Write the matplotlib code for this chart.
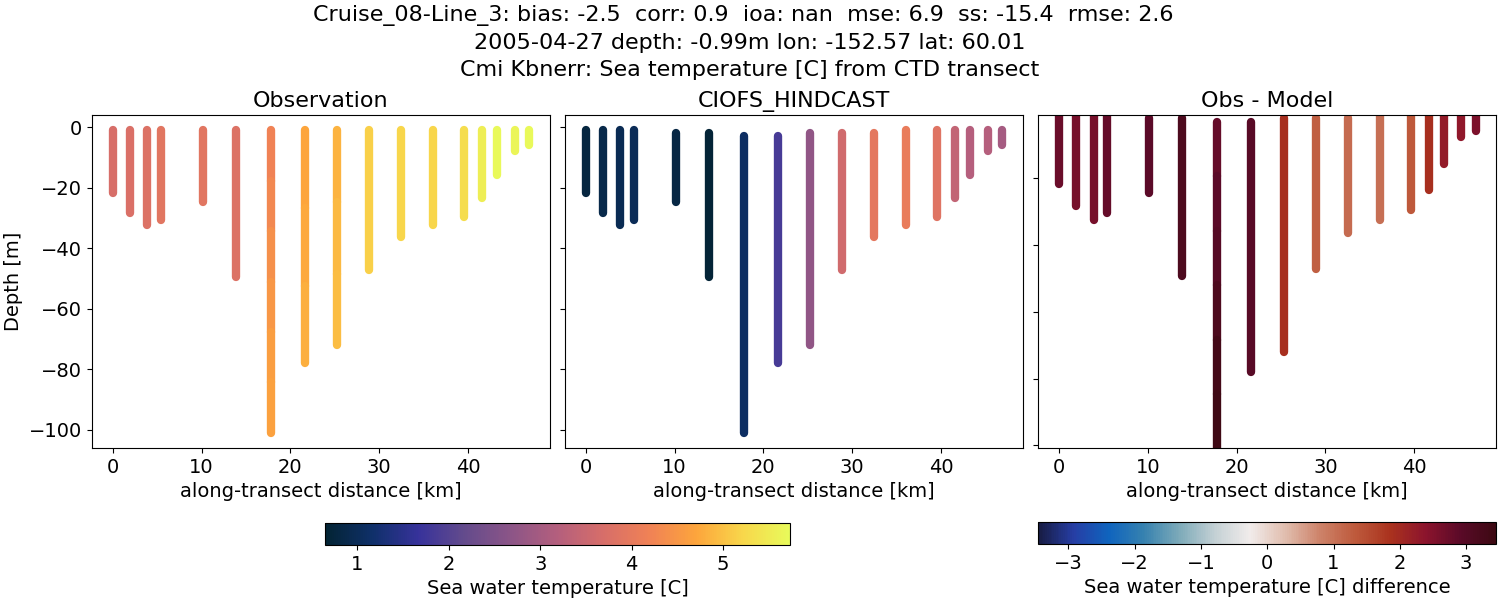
import numpy as np
import matplotlib
matplotlib.use('Agg')
import matplotlib.pyplot as plt
from matplotlib.cm import ScalarMappable
from matplotlib.colors import LinearSegmentedColormap, Normalize

# along-transect distance of each cast [km]
distance = [0.0, 1.9, 3.9, 5.4, 10.15, 13.85, 17.85, 21.6, 25.3, 28.9, 32.5, 36.1, 39.6, 41.6, 43.3, 45.3, 46.9]

# depth of first and last sample of each cast [m]
obs_top = [-1, -1, -1, -1, -1, -1, -1, -1, -1, -1, -1, -1, -1, -1, -1, -1, -1]
model_top = [-1, -1, -1, -1, -2, -2, -3, -3, -2, -2, -2, -1, -1, -1, -1, -1, -1]
bottom = [-21.6, -28.4, -32.4, -30.5, -24.5, -49.3, -100.9, -78, -72, -47.3, -36.4, -32.4, -29.5, -23.5, -15.7, -7.7, -5.7]

obs_temp = [[3.7], [3.75], [3.8], [3.9], [3.9], [3.8], [4.2, 4.3, 4.4, 4.5, 4.6, 4.65], [4.7, 4.75, 4.8], [4.85, 4.9, 4.95],
            [5.15], [5.2], [5.2], [5.3], [5.55], [5.7], [5.65], [5.7]]
model_temp = [[0.78], [0.88], [0.95], [1.0], [0.82], [0.7], [1.1], [1.85], [2.75],
              [3.6], [3.95], [4.05], [3.85], [3.4], [3.2], [3.2], [3.0]]
diff_temp = [[2.75], [2.6], [2.6], [2.8], [2.9], [3.15], [2.8, 2.9, 3.0, 3.15, 3.3, 3.4], [2.95], [1.9],
             [1.25], [1.1], [1.05], [1.35], [1.9], [2.25], [2.3], [2.55]]

title_lines = ['Cruise_08-Line_3: bias: -2.5  corr: 0.9  ioa: nan  mse: 6.9  ss: -15.4  rmse: 2.6  ',
               '2005-04-27 depth: -0.99m lon: -152.57 lat: 60.01',
               'Cmi Kbnerr: Sea temperature [C] from CTD transect']


def rgb_map(name, colors):
    return LinearSegmentedColormap.from_list(name, [(r / 255, g / 255, b / 255) for r, g, b in colors])


# stand-ins for cmocean thermal and balance
thermal = rgb_map('thermal', [(3, 35, 51), (15, 48, 105), (55, 50, 155), (100, 75, 140), (140, 85, 135),
                              (180, 95, 125), (215, 110, 105), (240, 130, 85), (253, 165, 60),
                              (248, 215, 75), (232, 250, 91)])
balance = rgb_map('balance', [(24, 28, 67), (38, 62, 165), (15, 100, 190), (55, 130, 175), (125, 170, 185),
                              (195, 208, 212), (241, 236, 235), (225, 190, 175), (205, 130, 105),
                              (190, 90, 60), (170, 50, 30), (140, 20, 45), (90, 10, 40), (60, 9, 18)])

temp_norm = Normalize(0.647, 5.73)
diff_norm = Normalize(-3.46, 3.46)

plt.rcParams['font.size'] = 14
W, H = 1500, 600


def px_axes(fig, x0, y0, x1, y1):
    return fig.add_axes([x0 / W, 1 - y1 / H, (x1 - x0) / W, (y1 - y0) / H])


def draw_casts(ax, tops, values, cmap, norm):
    for x, top, bot, vals in zip(distance, tops, bottom, values):
        edges = np.linspace(top, bot, len(vals) + 1)
        for i, v in enumerate(vals):
            ax.plot([x, x], [edges[i], edges[i + 1]], color=cmap(norm(v)), lw=6, solid_capstyle='round')


fig = plt.figure(figsize=(15, 6), dpi=100)
fig.suptitle('\n'.join(title_lines), fontsize=16, y=0.991, va='top', linespacing=1.41)

ax1 = px_axes(fig, 92, 115, 550, 448)
ax2 = px_axes(fig, 565, 115, 1023, 448)
ax3 = px_axes(fig, 1038, 115, 1496.5, 448)

draw_casts(ax1, obs_top, obs_temp, thermal, temp_norm)
draw_casts(ax2, model_top, model_temp, thermal, temp_norm)
draw_casts(ax3, model_top, diff_temp, balance, diff_norm)

ax1.set_title('Observation', fontsize=16)
ax2.set_title('CIOFS_HINDCAST', fontsize=16)
ax3.set_title('Obs - Model', fontsize=16)
ax1.set_ylabel('Depth [m]')

for ax in (ax1, ax2, ax3):
    ax.set_xlabel('along-transect distance [km]')
    ax.set_xticks([0, 10, 20, 30, 40])
    ax.set_yticks([0, -20, -40, -60, -80, -100])
ax1.set_ylim(-106, 4.1)
ax2.set_ylim(-106, 4.1)
ax3.set_ylim(-100.75, -1.05)
ax2.tick_params(labelleft=False)
ax3.tick_params(labelleft=False)

cax1 = px_axes(fig, 325, 522.5, 790, 545)
cb1 = fig.colorbar(ScalarMappable(temp_norm, thermal), cax=cax1, orientation='horizontal')
cb1.set_ticks([1, 2, 3, 4, 5])
cb1.set_label('Sea water temperature [C]')

cax2 = px_axes(fig, 1038, 522, 1496.5, 544)
cb2 = fig.colorbar(ScalarMappable(diff_norm, balance), cax=cax2, orientation='horizontal')
cb2.set_ticks([-3, -2, -1, 0, 1, 2, 3])
cb2.set_label('Sea water temperature [C] difference')

fig.savefig('out.png', dpi=100)
